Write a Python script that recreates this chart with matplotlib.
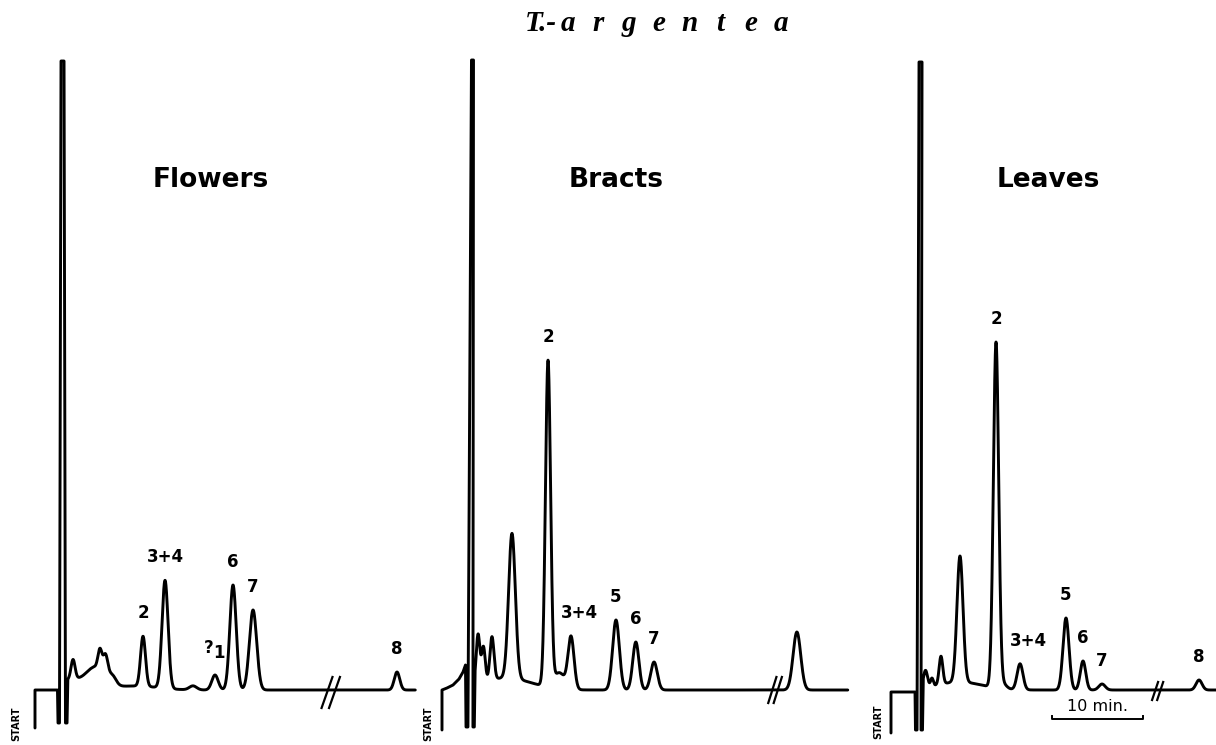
import numpy as np
import matplotlib
matplotlib.use("Agg")
import matplotlib.pyplot as plt

# ---------------- data ----------------
title_genus = "T.-"
title_species = "argentea"
panel_names = ["Flowers", "Bracts", "Leaves"]

# pen trace from START through the solvent front: time (min), response (a.u., 0 = baseline)
flowers_lead_t = [0.0, 0.0, 2.47, 2.53, 2.69, 2.86, 3.19, 3.35, 3.52]
flowers_lead_y = [-38, 0, 0, -33, -33, 629, 629, -33, -33]
bracts_lead_t = [0.0, 0.0, 0.55, 1.21, 1.87, 2.31, 2.58, 2.64, 2.85, 3.24, 3.46, 3.40, 3.55]
bracts_lead_y = [-40, 0, 2, 5, 11, 18, 25, -37, -37, 630, 630, -37, -37]
leaves_lead_t = [0.0, 0.0, 2.64, 2.69, 2.86, 3.08, 3.41, 3.30, 3.46]
leaves_lead_y = [-43, -2, -2, -40, -40, 628, 628, -40, -40]

# peaks: retention time (min), height (a.u.), width sigma (min), label
flowers_peak_t = [3.85, 4.18, 6.6, 7.14, 7.75, 8.5, 11.0, 11.87, 14.29, 17.36, 19.78, 21.76, 23.96, 39.78]
flowers_peak_h = [10, 19, 22, 20, 20, 8, 4, 50, 108, 4, 15, 105, 80, 18]
flowers_peak_w = [1.0, 0.22, 1.1, 0.22, 0.25, 0.4, 2.5, 0.27, 0.33, 0.4, 0.35, 0.35, 0.40, 0.30]
flowers_peak_lab = ["", "", "", "", "", "", "", "2", "3+4", "", "?1", "6", "7", "8"]

bracts_peak_t = [3.96, 4.55, 5.49, 7.0, 7.69, 11.65, 12.9, 14.18, 19.12, 21.3, 23.3, 39.0]
bracts_peak_h = [49, 35, 43, 12, 145, 325, 16, 52, 70, 48, 28, 58]
bracts_peak_w = [0.2, 0.2, 0.22, 2.8, 0.37, 0.28, 0.6, 0.33, 0.37, 0.34, 0.36, 0.42]
bracts_peak_lab = ["", "", "", "", "", "2", "", "3+4", "5", "6", "7", ""]

leaves_peak_t = [3.79, 4.5, 5.49, 7.5, 7.58, 11.54, 12.3, 14.18, 19.23, 21.1, 23.19, 33.85]
leaves_peak_h = [17, 8, 28, 8, 126, 345, 5, 26, 72, 29, 6, 10]
leaves_peak_w = [0.22, 0.15, 0.2, 2.5, 0.33, 0.29, 0.4, 0.32, 0.33, 0.30, 0.35, 0.33]
leaves_peak_lab = ["", "", "", "", "", "2", "", "3+4", "5", "6", "7", "8"]

trace_end_t = [41.8, 44.6, 35.7]
break_t = [32.5, 36.6, 29.3]
scale_bar_start_t = 17.7
scale_bar_len_min = 10
scale_bar_label = "10 min."
start_label = "START"

# ---------------- layout ----------------
W, H, DPI = 1216, 745, 100
panel_px = [(0, 420), (420, 860), (860, 1216)]
start_px = [35, 442, 891]
px_per_min = 9.1
base_px = 690
name_x_px = [211, 616, 1048]
name_base_px = 187
start_label_px = [(16, 724), (428, 724), (878, 722)]
break_geom = [(0.6, -18, 13, 0.41), (0.45, -13, 13, 0.30), (0.33, -10, 8, 0.28)]

leads = [(flowers_lead_t, flowers_lead_y), (bracts_lead_t, bracts_lead_y), (leaves_lead_t, leaves_lead_y)]
peaks = [(flowers_peak_t, flowers_peak_h, flowers_peak_w, flowers_peak_lab),
         (bracts_peak_t, bracts_peak_h, bracts_peak_w, bracts_peak_lab),
         (leaves_peak_t, leaves_peak_h, leaves_peak_w, leaves_peak_lab)]


def response(t, pt, ph, pw):
    t = np.asarray(t, dtype=float)
    y = np.zeros_like(t)
    for c, h, w in zip(pt, ph, pw):
        y = y + h * np.exp(-0.5 * ((t - c) / w) ** 2)
    return y


fig = plt.figure(figsize=(W / DPI, H / DPI), dpi=DPI)
fig.patch.set_facecolor("white")

LW = 2.1
for i in range(3):
    x0, x1 = panel_px[i]
    ax = fig.add_axes([x0 / W, 0, (x1 - x0) / W, 1])
    ax.set_xlim((x0 - start_px[i]) / px_per_min, (x1 - start_px[i]) / px_per_min)
    ax.set_ylim(base_px - H, base_px)
    ax.axis("off")

    lt, ly = leads[i]
    pt, ph, pw, plab = peaks[i]
    tt = np.arange(lt[-1] + 0.08, trace_end_t[i], 0.01)
    yy = response(tt, pt, ph, pw)
    ax.plot(np.r_[lt, tt], np.r_[ly, yy], color="black", lw=LW,
            solid_joinstyle="round", solid_capstyle="round")

    # peak labels
    for c, lab in zip(pt, plab):
        if not lab:
            continue
        apex = float(response([c], pt, ph, pw)[0])
        if lab == "?1":
            ax.annotate("?", (c, apex), xytext=(-6, 27), textcoords="offset pixels",
                        ha="center", va="center", fontsize=12, fontweight="bold")
            ax.annotate("1", (c, apex), xytext=(4, 22), textcoords="offset pixels",
                        ha="center", va="center", fontsize=12, fontweight="bold")
        else:
            dx = 8 if (lab == "3+4" and i > 0) else 0
            ax.annotate(lab, (c, apex), xytext=(dx, 23), textcoords="offset pixels",
                        ha="center", va="center", fontsize=12, fontweight="bold")

    # break marks //
    dxm, ylo, yhi, sep = break_geom[i]
    for s in (-sep, sep):
        b = break_t[i] + s
        ax.plot([b - dxm, b + dxm], [ylo, yhi], color="black", lw=1.6)

    # START label
    sx, sy = start_label_px[i]
    ax.text((sx - start_px[i]) / px_per_min, base_px - sy, start_label,
            rotation=90, ha="center", va="center", fontsize=7, fontweight="bold")

    # panel name
    ax.text((name_x_px[i] - start_px[i]) / px_per_min, base_px - name_base_px, panel_names[i],
            ha="center", va="baseline", fontsize=19, fontweight="bold", family="DejaVu Sans")

    if i == 2:
        yb = -29
        xs = scale_bar_start_t
        xe = xs + scale_bar_len_min
        ax.plot([xs, xs, xe, xe], [yb + 3, yb, yb, yb + 3], color="black", lw=1.4)
        ax.text((xs + xe) / 2, yb + 5, scale_bar_label, ha="center", va="bottom",
                fontsize=11.5, family="DejaVu Sans")

# title
title_font = dict(family="Liberation Serif", style="italic", fontweight="bold", fontsize=21)
fig.text(525 / W, 1 - 31 / H, title_genus, ha="left", va="baseline", **title_font)
for k, ch in enumerate(title_species):
    fig.text((568 + 30.4 * k) / W, 1 - 31 / H, ch, ha="center", va="baseline", **title_font)

fig.savefig("out.png", dpi=DPI, facecolor="white")
